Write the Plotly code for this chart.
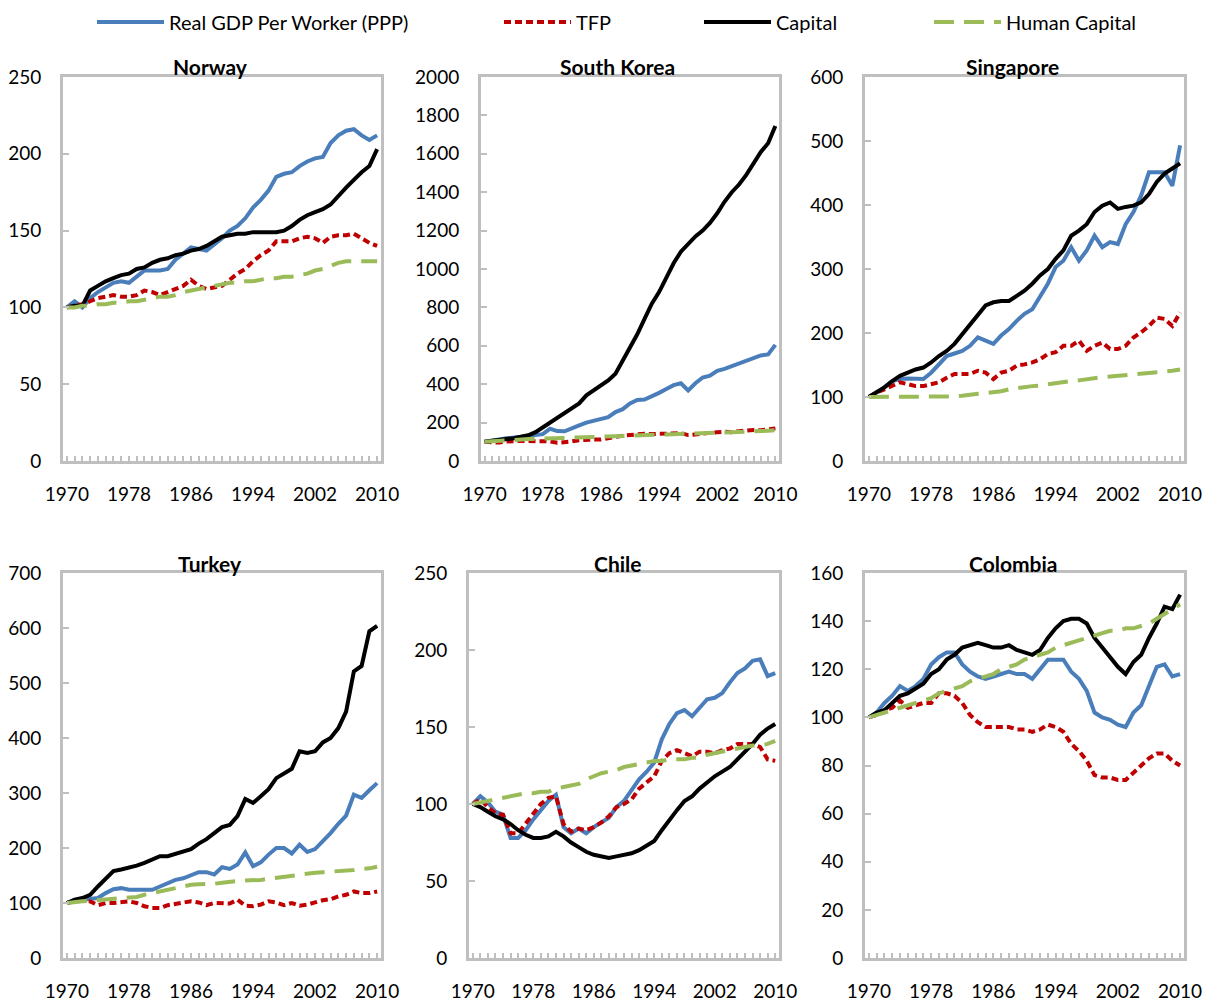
import plotly.graph_objects as go

years = list(range(1970, 2011))

# Norway
norway_gdp = [100, 104, 100, 106, 110, 113, 116, 117, 116, 120,
              124, 124, 124, 125, 131, 135, 139, 138, 137, 141,
              145, 150, 153, 158, 165, 170, 176, 185, 187, 188,
              192, 195, 197, 198, 207, 212, 215, 216, 212, 209, 212]
norway_tfp = [100, 101, 102, 104, 106, 107, 108, 107, 107, 108,
              111, 110, 108, 110, 112, 114, 118, 114, 112, 113,
              114, 118, 122, 125, 130, 134, 137, 143, 143, 143,
              145, 146, 145, 142, 146, 147, 147, 148, 145, 142, 140]
norway_capital = [100, 101, 101, 111, 114, 117, 119, 121, 122, 125,
                  126, 129, 131, 132, 134, 135, 137, 138, 140, 143,
                  146, 147, 148, 148, 149, 149, 149, 149, 150, 153,
                  157, 160, 162, 164, 167, 173, 178, 183, 188, 192, 203]
norway_human = [100, 100, 101, 101, 102, 102, 103, 103, 104, 104,
                105, 106, 107, 107, 108, 110, 111, 112, 113, 114,
                115, 116, 116, 117, 117, 118, 119, 119, 120, 120,
                121, 122, 124, 125, 127, 129, 130, 130, 130, 130, 130]

# South Korea
korea_gdp = [100, 108, 112, 118, 122, 127, 132, 138, 140, 168,
             156, 155, 168, 185, 200, 210, 218, 228, 255, 270,
             300, 318, 320, 335, 355, 375, 395, 405, 368, 405,
             435, 445, 470, 480, 495, 505, 520, 540, 550, 555, 605]
korea_tfp = [100, 98, 96, 102, 105, 104, 104, 105, 104, 102,
             95, 96, 102, 108, 112, 112, 112, 120, 128, 132,
             135, 140, 142, 140, 140, 142, 145, 145, 135, 140,
             145, 148, 150, 152, 150, 155, 160, 162, 160, 165, 170]
korea_capital = [100, 104, 108, 113, 119, 126, 134, 150, 175, 200,
                 225, 245, 270, 300, 342, 368, 390, 420, 455, 524,
                 600, 660, 740, 819, 880, 960, 1030, 1090, 1130, 1170,
                 1200, 1240, 1290, 1350, 1400, 1440, 1490, 1550, 1610, 1655, 1745]
korea_human = [100, 103, 106, 108, 110, 112, 114, 115, 116, 118,
               120, 121, 123, 124, 126, 127, 128, 129, 130, 131,
               132, 133, 134, 135, 137, 138, 139, 140, 141, 142,
               143, 144, 145, 146, 148, 150, 152, 154, 156, 158, 160]

# Singapore
singapore_gdp = [100, 108, 115, 125, 128, 129, 128, 128, 138, 150,
                 164, 168, 172, 180, 193, 188, 183, 196, 206, 219,
                 230, 237, 258, 277, 303, 313, 334, 313, 329, 352,
                 334, 342, 339, 370, 389, 415, 451, 451, 451, 430, 493]
singapore_tfp = [100, 107, 112, 117, 123, 120, 117, 117, 120, 123,
                 130, 136, 136, 136, 141, 138, 128, 138, 141, 149,
                 151, 154, 159, 167, 170, 180, 180, 188, 172, 180,
                 185, 175, 175, 180, 193, 201, 211, 224, 222, 211, 232]
singapore_capital = [100, 107, 115, 125, 133, 138, 143, 146, 154, 164,
                     172, 183, 198, 214, 230, 243, 248, 250, 250, 258,
                     266, 277, 290, 300, 316, 329, 352, 360, 370, 389,
                     399, 404, 394, 397, 399, 404, 417, 436, 449, 457, 465]
singapore_human = [100, 100, 100, 100, 100, 100, 100, 100, 100, 100,
                   100, 101, 102, 104, 105, 106, 107, 109, 112, 114,
                   115, 117, 118, 120, 121, 123, 125, 126, 128, 129,
                   131, 132, 133, 134, 135, 137, 138, 139, 140, 141, 143]

# Turkey
turkey_gdp = [100, 104, 106, 107, 109, 118, 125, 127, 124, 124,
              124, 124, 130, 136, 142, 145, 150, 156, 156, 152,
              165, 162, 170, 192, 167, 174, 188, 200, 200, 190,
              206, 193, 198, 212, 227, 244, 259, 297, 291, 305, 318]
turkey_tfp = [100, 103, 104, 103, 96, 100, 100, 102, 103, 100,
              94, 91, 91, 96, 98, 100, 103, 101, 96, 100,
              100, 99, 106, 95, 94, 97, 103, 101, 96, 100,
              95, 97, 101, 105, 107, 112, 115, 121, 118, 118, 121]
turkey_capital = [100, 106, 109, 115, 130, 145, 158, 161, 164, 168,
                  173, 179, 185, 185, 189, 194, 198, 208, 216, 227,
                  238, 242, 258, 289, 282, 294, 307, 327, 336, 344,
                  376, 373, 376, 392, 400, 418, 448, 521, 531, 594, 604]
turkey_human = [100, 102, 103, 104, 105, 106, 107, 108, 109, 111,
                115, 118, 122, 125, 128, 131, 133, 134, 134, 135,
                137, 139, 140, 141, 141, 142, 144, 146, 147, 149,
                151, 153, 155, 156, 157, 157, 158, 160, 162, 163, 166]

# Chile
chile_gdp = [100, 105, 101, 95, 93, 78, 78, 83, 90, 96,
             102, 106, 85, 81, 84, 81, 85, 88, 91, 98,
             102, 109, 116, 121, 127, 142, 152, 159, 161, 157,
             163, 168, 169, 172, 179, 185, 188, 193, 194, 183, 185]
chile_tfp = [100, 103, 98, 94, 93, 81, 81, 87, 93, 100,
             104, 105, 87, 82, 84, 83, 85, 88, 92, 98,
             100, 103, 110, 114, 118, 128, 133, 135, 133, 131,
             134, 134, 133, 135, 136, 139, 139, 139, 137, 129, 128]
chile_capital = [100, 98, 95, 92, 90, 87, 83, 80, 78, 78,
                 79, 82, 79, 75, 72, 69, 67, 66, 65, 66,
                 67, 68, 70, 73, 76, 83, 90, 96, 102, 105,
                 110, 114, 118, 121, 124, 129, 134, 139, 145, 149, 152]
chile_human = [100, 101, 102, 103, 104, 105, 106, 107, 107, 108,
               108, 110, 111, 112, 113, 116, 118, 120, 121, 122,
               124, 125, 126, 127, 128, 128, 129, 129, 129, 130,
               130, 132, 133, 134, 135, 136, 137, 138, 138, 139, 141]

# Colombia
colombia_gdp = [100, 102, 106, 109, 113, 111, 113, 116, 122, 125,
                127, 127, 122, 119, 117, 116, 117, 118, 119, 118,
                118, 116, 120, 124, 124, 124, 119, 116, 111, 102,
                100, 99, 97, 96, 102, 105, 113, 121, 122, 117, 118]
colombia_tfp = [100, 101, 103, 104, 107, 104, 105, 106, 106, 110,
                110, 109, 106, 101, 98, 96, 96, 96, 96, 95,
                95, 94, 95, 97, 96, 94, 89, 86, 82, 76,
                75, 75, 74, 74, 77, 80, 83, 85, 85, 82, 80]
colombia_capital = [100, 102, 103, 106, 109, 110, 112, 114, 118, 120,
                    124, 126, 129, 130, 131, 130, 129, 129, 130, 128,
                    127, 126, 128, 133, 137, 140, 141, 141, 139, 133,
                    129, 125, 121, 118, 123, 126, 133, 139, 146, 145, 151]
colombia_human = [100, 101, 102, 103, 104, 105, 106, 107, 108, 110,
                  111, 112, 113, 115, 116, 117, 118, 120, 121, 122,
                  124, 125, 126, 127, 129, 130, 131, 132, 133, 134,
                  135, 136, 136, 137, 137, 138, 139, 141, 143, 145, 147]

countries = ["Norway", "South Korea", "Singapore", "Turkey", "Chile", "Colombia"]
y_max = [250, 2000, 600, 700, 250, 160]
y_step = [50, 200, 100, 100, 50, 20]
x_ticks = [1970, 1978, 1986, 1994, 2002, 2010]

panel_data = [
    [norway_gdp, norway_tfp, norway_capital, norway_human],
    [korea_gdp, korea_tfp, korea_capital, korea_human],
    [singapore_gdp, singapore_tfp, singapore_capital, singapore_human],
    [turkey_gdp, turkey_tfp, turkey_capital, turkey_human],
    [chile_gdp, chile_tfp, chile_capital, chile_human],
    [colombia_gdp, colombia_tfp, colombia_capital, colombia_human],
]

series_names = ["Real GDP Per Worker (PPP)", "TFP", "Capital", "Human Capital"]
series_colors = ["#4A7EBB", "#C00000", "#000000", "#9BBB59"]
series_dash = ["solid", "7px,4px", "solid", "20px,10px"]
legend_ids = ["legend", "legend2", "legend3", "legend4"]

# the page puts the figure 8px in from the top-left corner
OFF = 8
W, H = 1204, 997
GREY = "#BFBFBF"
FONT = "Lato"


def px_x(v):
    return (v - OFF) / W


def px_y(v):
    return 1 - (v - OFF) / H


legend_x = [97, 504, 704, 934]

# plot areas in page pixels: (left, right), (top, bottom)
x_px = [(63, 381), (481, 779), (865, 1184), (63, 381), (469, 779), (865, 1184)]
y_px = [(77, 461)] * 3 + [(573, 958)] * 3
title_x = [210, 617, 1012, 210, 618, 1013]
title_y = [66, 66, 66, 563, 563, 563]

fig = go.Figure()

for i, country in enumerate(countries):
    n = "" if i == 0 else str(i + 1)
    for j in range(4):
        fig.add_trace(go.Scatter(
            x=years, y=panel_data[i][j], mode="lines",
            name=series_names[j],
            line=dict(color=series_colors[j], width=4, dash=series_dash[j]),
            xaxis="x" + n, yaxis="y" + n,
            legend=legend_ids[j], showlegend=(i == 0),
        ))

    fig.layout["xaxis" + n] = dict(
        domain=[px_x(x_px[i][0]), px_x(x_px[i][1])],
        anchor="y" + n,
        range=[1969.5, 2010.5],
        tickvals=x_ticks,
        ticks="inside", ticklen=5, tickwidth=2, tickcolor=GREY,
        minor=dict(tick0=1970, dtick=1, ticks="inside", ticklen=5, tickwidth=2, tickcolor=GREY),
        showgrid=False, zeroline=False,
        showline=True, mirror=True, linecolor=GREY, linewidth=3,
        tickfont=dict(family=FONT, size=19, color="#000000"),
        ticklabelstandoff=14,
    )
    fig.layout["yaxis" + n] = dict(
        domain=[px_y(y_px[i][1]), px_y(y_px[i][0])],
        anchor="x" + n,
        range=[0, y_max[i]],
        dtick=y_step[i],
        ticks="inside", ticklen=6, tickwidth=2, tickcolor=GREY,
        showgrid=False, zeroline=False,
        showline=True, mirror=True, linecolor=GREY, linewidth=3,
        tickfont=dict(family=FONT, size=19, color="#000000"),
        ticklabelstandoff=15,
    )
    fig.add_annotation(
        text="<b>" + country + "</b>", x=px_x(title_x[i]), y=px_y(title_y[i]),
        xref="paper", yref="paper", showarrow=False,
        xanchor="center", yanchor="middle",
        font=dict(family=FONT, size=21, color="#000000"),
    )

legends = {}
for j, lid in enumerate(legend_ids):
    legends[lid] = dict(
        x=px_x(legend_x[j] - 5), y=px_y(22), xanchor="left", yanchor="middle",
        orientation="h", bgcolor="rgba(0,0,0,0)", itemwidth=67,
        font=dict(family=FONT, size=20, color="#000000"),
    )

fig.update_layout(
    width=W, height=H,
    margin=dict(l=0, r=0, t=0, b=0, autoexpand=False),
    paper_bgcolor="white", plot_bgcolor="white",
    **legends,
)

fig.write_html("out.html")
